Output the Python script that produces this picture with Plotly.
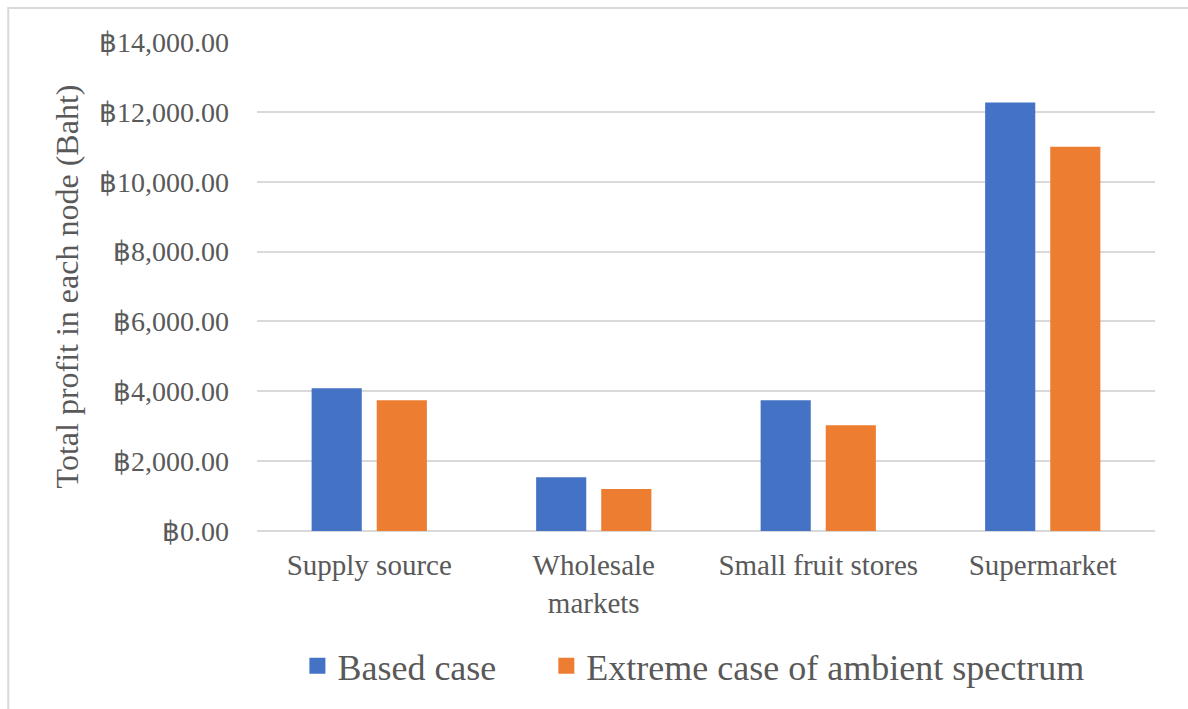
import plotly.graph_objects as go

# Profit per node of the supply chain (Baht)
categories = ["Supply source", "Wholesale<br>markets", "Small fruit stores", "Supermarket"]
based_case = [4090, 1540, 3740, 12270]
extreme_case = [3740, 1200, 3030, 11000]
series_names = ["Based case", "Extreme case of ambient spectrum"]
tick_values = [0, 2000, 4000, 6000, 8000, 10000, 12000, 14000]
tick_labels = ["฿{:,.2f}".format(v) for v in tick_values]

BLUE = "#4472C4"
ORANGE = "#ED7D31"
TEXT = "#595959"
GRID = "#d9d9d9"
FONT = "Liberation Serif"
LEGEND_PAD = "\u00a0" * 5  # extra room between the two legend entries

fig = go.Figure()
for vals, name, color, pad in [(based_case, series_names[0], BLUE, LEGEND_PAD),
                               (extreme_case, series_names[1], ORANGE, "")]:
    fig.add_trace(go.Bar(x=categories, y=vals, name=name, showlegend=False,
                         marker=dict(color=color, line=dict(width=0))))
    # legend key drawn as a larger square swatch
    fig.add_trace(go.Scatter(x=[None], y=[None], mode="markers", name=name + pad,
                             marker=dict(symbol="square", size=17, color=color)))

fig.update_layout(
    width=1188, height=709,
    margin=dict(l=257, r=33, t=42, b=178),
    paper_bgcolor="white", plot_bgcolor="white",
    barmode="group", bargap=0.42, bargroupgap=0.23,
    font=dict(family=FONT, color=TEXT, size=28),
    legend=dict(orientation="h", x=0.045, xanchor="left", y=-0.276, yanchor="middle",
                font=dict(size=36, family=FONT, color=TEXT),
                itemwidth=30, traceorder="normal", bgcolor="rgba(0,0,0,0)"),
    xaxis=dict(showgrid=False, showline=False, ticks="", ticklabelstandoff=14,
               tickfont=dict(size=29, family=FONT, color=TEXT)),
    yaxis=dict(range=[0, 14000], tickvals=tick_values, ticktext=tick_labels,
               showgrid=True, gridcolor=GRID, gridwidth=1.5,
               zeroline=True, zerolinecolor=GRID, zerolinewidth=1.5,
               showline=False, ticks="", ticklabelstandoff=27,
               tickfont=dict(size=28, family=FONT, color=TEXT),
               title=dict(text="Total profit in each node (Baht)",
                          font=dict(size=32, family=FONT, color=TEXT), standoff=10)),
    shapes=[dict(type="rect", xref="paper", yref="paper", x0=-0.277, x1=1.2, y0=-0.6, y1=1.0695,
                 line=dict(color=GRID, width=2), layer="below")],
)

fig.write_html("out.html")
